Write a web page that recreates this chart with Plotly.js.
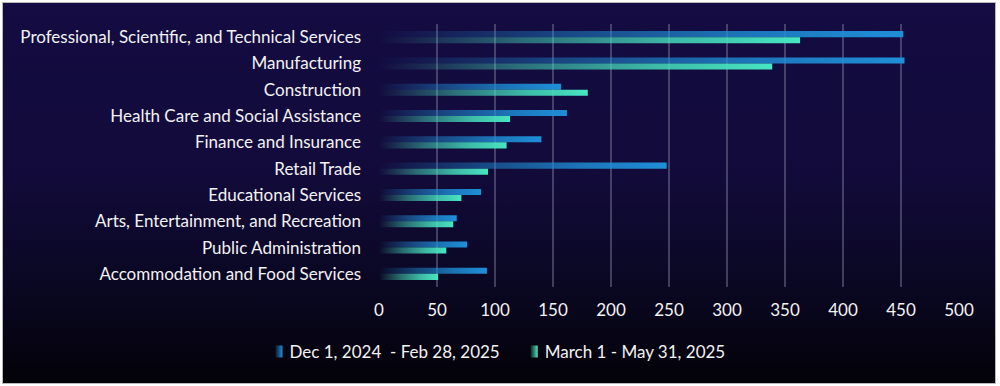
<!DOCTYPE html>
<html>
<head>
<meta charset="utf-8">
<script src="https://cdn.plot.ly/plotly-3.0.1.min.js"></script>
<style>
  html, body { margin: 0; padding: 0; background: #ffffff; }
  #frame {
    position: absolute; left: 2px; top: 2px; width: 992px; height: 380px;
    border: 1px solid #b8b8b8;
    background: linear-gradient(to bottom, #140c42 0%, #120b3a 45%, #0a0722 75%, #030208 100%);
  }
  #chart { position: absolute; left: -3px; top: -3px; width: 1000px; height: 386px; }
</style>
</head>
<body>
<div id="frame"><div id="chart"></div></div>
<script>
const categories = [
  "Professional, Scientific, and Technical Services",
  "Manufacturing",
  "Construction",
  "Health Care and Social Assistance",
  "Finance and Insurance",
  "Retail Trade",
  "Educational Services",
  "Arts, Entertainment, and Recreation",
  "Public Administration",
  "Accommodation and Food Services"
];
const seriesNames = ["Dec 1, 2024 \u00a0- Feb 28, 2025", "March 1 - May 31, 2025"];
const decFeb = [452, 453, 157, 162, 140, 248, 88, 67, 76, 93];
const marMay = [363, 339, 180, 113, 110, 94, 71, 64, 58, 51];
const xTicks = [0, 50, 100, 150, 200, 250, 300, 350, 400, 450, 500];

const colors = ["#1f8fd8", "#48e6c2"];
const FONT = "Lato, 'Open Sans', sans-serif";

const traces = [
  { type: "bar", orientation: "h", name: seriesNames[0], y: categories, x: decFeb,
    marker: { color: colors[0], line: { width: 0 } }, hoverinfo: "x+y" },
  { type: "bar", orientation: "h", name: seriesNames[1], y: categories, x: marMay,
    marker: { color: colors[1], line: { width: 0 } }, hoverinfo: "x+y" }
];

const layout = {
  width: 1000, height: 386,
  paper_bgcolor: "rgba(0,0,0,0)",
  plot_bgcolor: "rgba(0,0,0,0)",
  margin: { l: 379, r: 41, t: 24, b: 99 },
  barmode: "group",
  bargap: 0.54,
  bargroupgap: 0,
  font: { family: FONT, size: 17, color: "#f2f2f2" },
  xaxis: {
    range: [0, 500], tickvals: xTicks, ticktext: xTicks.map(String),
    showgrid: true, gridcolor: "rgba(140,140,170,0.42)", gridwidth: 1.5,
    zeroline: false, showline: false, ticks: "",
    ticklabelstandoff: 11,
    tickfont: { family: FONT, size: 17, color: "#f2f2f2" }
  },
  yaxis: {
    autorange: "reversed", type: "category",
    showgrid: false, zeroline: false, showline: false, ticks: "",
    ticklabelstandoff: 17,
    tickfont: { family: FONT, size: 17, color: "#f2f2f2" }
  },
  showlegend: true,
  legend: {
    orientation: "h", xref: "container", yref: "container",
    x: 0.49, xanchor: "center", y: 0.088, yanchor: "middle",
    font: { family: FONT, size: 17, color: "#f2f2f2" },
    bgcolor: "rgba(0,0,0,0)", itemwidth: 30, traceorder: "normal"
  }
};

function applyGradients(gd) {
  const svg = gd.querySelector("svg.main-svg");
  if (!svg) return;
  const ns = "http://www.w3.org/2000/svg";
  let defs = svg.querySelector("defs");
  if (!defs) { defs = document.createElementNS(ns, "defs"); svg.insertBefore(defs, svg.firstChild); }
  colors.forEach((c, i) => {
    const g = document.createElementNS(ns, "linearGradient");
    g.setAttribute("id", "barGrad" + i);
    g.setAttribute("x1", "0"); g.setAttribute("y1", "0");
    g.setAttribute("x2", "1"); g.setAttribute("y2", "0");
    [[0, 0.0], [0.35, 0.45], [0.7, 0.8], [1, 1]].forEach(([o, a]) => {
      const s = document.createElementNS(ns, "stop");
      s.setAttribute("offset", o);
      s.setAttribute("stop-color", c);
      s.setAttribute("stop-opacity", a);
      g.appendChild(s);
    });
    defs.appendChild(g);
    const lg = document.createElementNS(ns, "linearGradient");
    lg.setAttribute("id", "legGrad" + i);
    lg.setAttribute("x1", "0"); lg.setAttribute("y1", "0");
    lg.setAttribute("x2", "1"); lg.setAttribute("y2", "0");
    [[0, 0.15], [1, 1]].forEach(([o, a]) => {
      const s = document.createElementNS(ns, "stop");
      s.setAttribute("offset", o);
      s.setAttribute("stop-color", c);
      s.setAttribute("stop-opacity", a);
      lg.appendChild(s);
    });
    defs.appendChild(lg);
  });
  const barTraces = gd.querySelectorAll(".barlayer .trace");
  barTraces.forEach((t, i) => {
    t.querySelectorAll(".point path").forEach(p => { p.style.fill = "url(#barGrad" + i + ")"; });
  });
  const legTraces = gd.querySelectorAll(".legend .traces");
  legTraces.forEach((t, i) => {
    t.querySelectorAll(".legendpoints path").forEach(p => {
      p.style.fill = "url(#legGrad" + i + ")";
      p.setAttribute("d", "M6,-6H13V6H6Z");
      p.style.strokeWidth = "0";
    });
  });
}

Plotly.newPlot("chart", traces, layout, { displayModeBar: false, staticPlot: true })
  .then(gd => applyGradients(gd));
</script>
</body>
</html>
